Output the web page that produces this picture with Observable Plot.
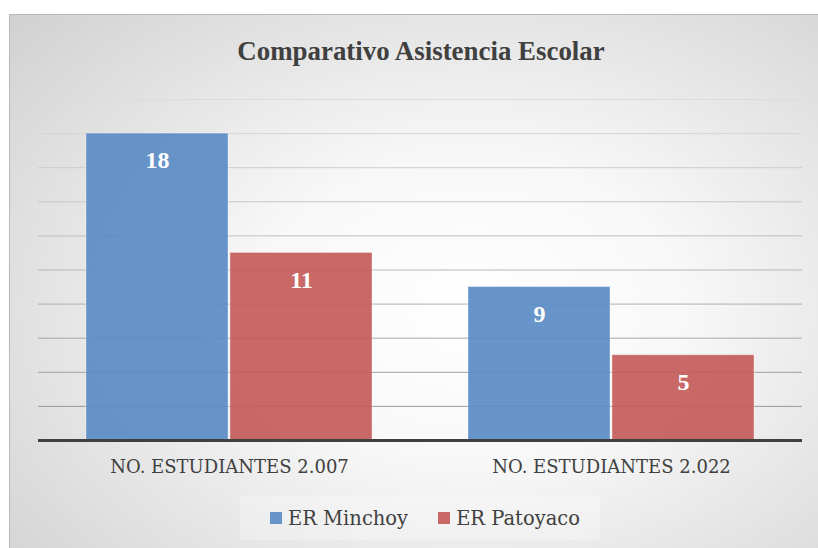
<!DOCTYPE html>
<html>
<head>
<meta charset="utf-8">
<script src="https://cdn.jsdelivr.net/npm/d3@7"></script>
<script src="https://cdn.jsdelivr.net/npm/@observablehq/plot@0.6"></script>
<style>
  html, body { margin: 0; padding: 0; background: #ffffff; }
  #page { position: relative; width: 818px; height: 548px; overflow: hidden; }
  #box {
    position: absolute; left: 9px; top: 14px; width: 809px; height: 534px;
    box-sizing: border-box;
    border-top: 1px solid #b8b8b8; border-left: 1px solid #b8b8b8;
    background: radial-gradient(ellipse 75% 80% at 57% 55%, #ffffff 0%, #f8f8f8 35%, #d2d2d2 100%);
  }
  #title {
    position: absolute; left: 0; top: 35px; width: 842px; text-align: center;
    font-family: "Liberation Serif", serif; font-weight: bold; font-size: 28px;
    color: #404040; transform: scaleX(0.96); transform-origin: 421px 0;
    white-space: nowrap;
  }
  #chart { position: absolute; left: 0; top: 0; }
  #legend {
    position: absolute; left: 240px; top: 496px; width: 360px; height: 44px;
    background: rgba(255,255,255,0.25);
    display: flex; align-items: center; justify-content: flex-start; gap: 30px;
    box-sizing: border-box; padding-left: 30px;
    font-family: "DejaVu Serif", serif; font-size: 19.5px; color: #404040;
  }
  .item { display: flex; align-items: center; gap: 6px; }
  .sw { width: 12px; height: 12px; box-sizing: border-box; }
</style>
</head>
<body>
<div id="page">
  <div id="box"></div>
  <div id="chart"></div>
  <div id="title">Comparativo Asistencia Escolar</div>
  <div id="legend"></div>
</div>
<script>
const categories = ["NO. ESTUDIANTES 2.007", "NO. ESTUDIANTES 2.022"];
const seriesNames = ["ER Minchoy", "ER Patoyaco"];
const minchoy = [18, 9];
const patoyaco = [11, 5];
const seriesColors = ["#5a8bc4", "#c45c5a"];
const gridTicks = [2, 4, 6, 8, 10, 12, 14, 16, 18, 20];

const rows = [];
categories.forEach((c, i) => {
  rows.push({cat: c, series: seriesNames[0], value: minchoy[i]});
  rows.push({cat: c, series: seriesNames[1], value: patoyaco[i]});
});

const gridColor = d3.scaleLinear().domain([2, 20]).range(["#9a9a9a", "#dcdcdc"]);

const chart = Plot.plot({
  width: 818,
  height: 490,
  marginLeft: 38,
  marginRight: 16,
  marginTop: 99,
  marginBottom: 50,
  style: {background: "transparent", fontFamily: "DejaVu Serif, serif", overflow: "visible"},
  fx: {domain: categories, padding: 0, label: null, axis: null},
  x: {domain: seriesNames, paddingInner: 0.014, paddingOuter: 0.333, axis: null},
  y: {domain: [0, 20], axis: null},
  color: {domain: seriesNames, range: seriesColors},
  marks: [
    Plot.ruleY(gridTicks, {y: d => d, stroke: d => gridColor(d), strokeWidth: 1}),
    Plot.barY(rows, {fx: "cat", x: "series", y: "value", fill: "series", fillOpacity: 0.92,
      stroke: "#ffffff", strokeOpacity: 0.35, strokeWidth: 1}),
    Plot.text(rows, {fx: "cat", x: "series", y: "value", text: d => String(d.value), dy: 27,
      fill: "#ffffff", fontWeight: "bold", fontSize: 24, fontFamily: "Liberation Serif, serif"}),
    Plot.ruleY([0], {stroke: "#404040", strokeWidth: 3}),
    Plot.axisFx({domain: categories, anchor: "bottom", tickSize: 0, tickPadding: 20, label: null,
      fontSize: 18, fontFamily: "DejaVu Serif, serif", color: "#404040"})
  ]
});
document.getElementById("chart").appendChild(chart);

const legend = document.getElementById("legend");
seriesNames.forEach((s, i) => {
  const item = document.createElement("div");
  item.className = "item";
  const sw = document.createElement("div");
  sw.className = "sw";
  sw.style.background = seriesColors[i];
  sw.style.opacity = 0.92;
  const t = document.createElement("span");
  t.textContent = s;
  item.appendChild(sw); item.appendChild(t);
  legend.appendChild(item);
});
</script>
</body>
</html>
